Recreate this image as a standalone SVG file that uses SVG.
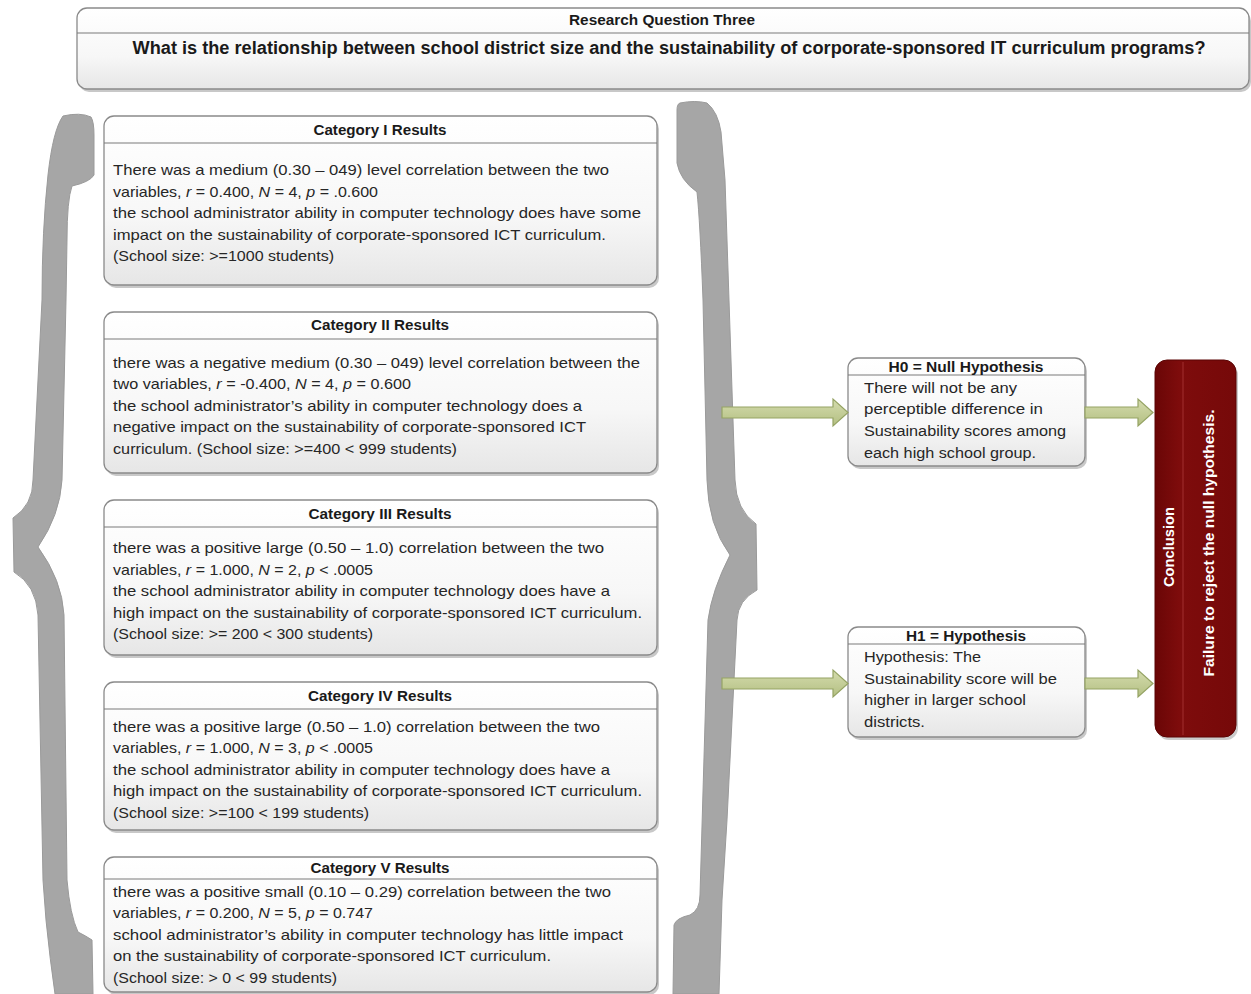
<svg xmlns="http://www.w3.org/2000/svg" width="1251" height="994" viewBox="0 0 1251 994">
<defs>
<linearGradient id="boxg" x1="0" y1="0" x2="0" y2="1">
<stop offset="0" stop-color="#ffffff"/>
<stop offset="0.6" stop-color="#f7f7f7"/>
<stop offset="1" stop-color="#e6e6e6"/>
</linearGradient>
<linearGradient id="redg" x1="0" y1="0" x2="1" y2="0">
<stop offset="0" stop-color="#6a0606"/>
<stop offset="0.3" stop-color="#7e0c0c"/>
<stop offset="1" stop-color="#760909"/>
</linearGradient>
<linearGradient id="arrg" x1="0" y1="0" x2="0" y2="1">
<stop offset="0" stop-color="#d5dcae"/>
<stop offset="1" stop-color="#b3bf82"/>
</linearGradient>
</defs>
<style>
.box{fill:url(#boxg);stroke:#8a8a8a;stroke-width:1.3}
.shadow{fill:#c8c8c8}
.sep{stroke:#7a7a7a;stroke-width:1.2}
.title{font-family:"Liberation Sans",Arial,sans-serif;font-weight:bold;font-size:14.5px;fill:#1a1a1a;text-anchor:middle}
.body{font-family:"Liberation Sans",Arial,sans-serif;font-size:15px;fill:#262626}
.hbody{font-family:"Liberation Sans",Arial,sans-serif;font-size:15.5px;fill:#262626}
.it{font-style:italic}
.brace{fill:#a6a6a6;stroke:#9a9a9a;stroke-width:1}
.arrow{fill:url(#arrg);stroke:#95a364;stroke-width:1.2}
.wt{font-family:"Liberation Sans",Arial,sans-serif;font-weight:bold;font-size:15px;fill:#ffffff;text-anchor:middle}
</style>

<g id="question">
<rect class="shadow" x="79" y="11" width="1172" height="81" rx="10"/>
<rect class="box" x="77" y="8" width="1172" height="81" rx="10"/>
<line class="sep" x1="77" y1="33" x2="1249" y2="33"/>
<text class="title" x="662" y="25" textLength="186" lengthAdjust="spacingAndGlyphs">Research Question Three</text>
<text class="title" x="669" y="54" style="font-size:18px" textLength="1073" lengthAdjust="spacingAndGlyphs">What is the relationship between school district size and the sustainability of corporate-sponsored IT curriculum programs?</text>
</g>

<g id="left-brace">
<path class="brace" d="M63,116 Q80,112 91,117 Q94,122 94,135 L94,175 Q90,182 72,186 Q67,200 67,240 L66,300 L62,480 Q60,515 38,547 Q62,580 64,615 L67,880 Q70,915 78,932 Q86,936 92,940 L93,994 L55,994 Q50,960 46,920 L43,880 L38,615 Q36,585 14,572 L13,518 Q33,505 33,480 L42,300 Q42,230 48,175 Q53,130 63,116 Z"/>
</g>

<g id="right-brace">
<path class="brace" d="M680,103 Q695,100 707,103 Q718,112 721,132 L725,180 L735,480 Q736,510 756,524 L757,590 Q738,600 737,620 L727,820 L722,900 L719,994 L673,994 L674,925 Q676,918 690,915 Q700,910 700,895 L708,620 Q712,590 730,555 Q708,525 707,480 L703,300 Q700,220 697,192 Q680,180 677,163 L677,110 Q677,104 680,103 Z"/>
</g>

<g id="cat1">
<rect class="shadow" x="106" y="119" width="553" height="169" rx="10"/>
<rect class="box" x="104" y="116" width="553" height="169" rx="10"/>
<line class="sep" x1="104" y1="143" x2="657" y2="143"/>
<text class="title" x="380" y="135" textLength="133" lengthAdjust="spacingAndGlyphs">Category I Results</text>
<text class="body" x="113" y="175" textLength="496" lengthAdjust="spacingAndGlyphs">There was a medium (0.30 – 049) level correlation between the two</text>
<text class="body" x="113" y="197" textLength="265" lengthAdjust="spacingAndGlyphs">variables, <tspan class="it">r</tspan> = 0.400, <tspan class="it">N</tspan> = 4, <tspan class="it">p</tspan> = .0.600</text>
<text class="body" x="113" y="218" textLength="528" lengthAdjust="spacingAndGlyphs">the school administrator ability in computer technology does have some</text>
<text class="body" x="113" y="240" textLength="493" lengthAdjust="spacingAndGlyphs">impact on the sustainability of corporate-sponsored ICT curriculum.</text>
<text class="body" x="113" y="261" textLength="221" lengthAdjust="spacingAndGlyphs">(School size: &gt;=1000 students)</text>
</g>

<g id="cat2">
<rect class="shadow" x="106" y="315" width="553" height="161" rx="10"/>
<rect class="box" x="104" y="312" width="553" height="161" rx="10"/>
<line class="sep" x1="104" y1="339" x2="657" y2="339"/>
<text class="title" x="380" y="330" textLength="138" lengthAdjust="spacingAndGlyphs">Category II Results</text>
<text class="body" x="113" y="368" textLength="527" lengthAdjust="spacingAndGlyphs">there was a negative medium (0.30 – 049) level correlation between the</text>
<text class="body" x="113" y="389" textLength="298" lengthAdjust="spacingAndGlyphs">two variables, <tspan class="it">r</tspan> = -0.400, <tspan class="it">N</tspan> = 4, <tspan class="it">p</tspan> = 0.600</text>
<text class="body" x="113" y="411" textLength="469" lengthAdjust="spacingAndGlyphs">the school administrator’s ability in computer technology does a</text>
<text class="body" x="113" y="432" textLength="473" lengthAdjust="spacingAndGlyphs">negative impact on the sustainability of corporate-sponsored ICT</text>
<text class="body" x="113" y="454" textLength="344" lengthAdjust="spacingAndGlyphs">curriculum. (School size: &gt;=400 &lt; 999 students)</text>
</g>

<g id="cat3">
<rect class="shadow" x="106" y="503" width="553" height="155" rx="10"/>
<rect class="box" x="104" y="500" width="553" height="155" rx="10"/>
<line class="sep" x1="104" y1="527" x2="657" y2="527"/>
<text class="title" x="380" y="519" textLength="143" lengthAdjust="spacingAndGlyphs">Category III Results</text>
<text class="body" x="113" y="553" textLength="491" lengthAdjust="spacingAndGlyphs">there was a positive large (0.50 – 1.0)  correlation between the two</text>
<text class="body" x="113" y="575" textLength="260" lengthAdjust="spacingAndGlyphs">variables, <tspan class="it">r</tspan> = 1.000, <tspan class="it">N</tspan> = 2, <tspan class="it">p</tspan> &lt; .0005</text>
<text class="body" x="113" y="596" textLength="497" lengthAdjust="spacingAndGlyphs">the school administrator ability in computer technology does have a</text>
<text class="body" x="113" y="618" textLength="529" lengthAdjust="spacingAndGlyphs">high impact on the sustainability of corporate-sponsored ICT curriculum.</text>
<text class="body" x="113" y="639" textLength="260" lengthAdjust="spacingAndGlyphs">(School size: &gt;= 200 &lt; 300 students)</text>
</g>

<g id="cat4">
<rect class="shadow" x="106" y="685" width="553" height="148" rx="10"/>
<rect class="box" x="104" y="682" width="553" height="148" rx="10"/>
<line class="sep" x1="104" y1="709" x2="657" y2="709"/>
<text class="title" x="380" y="701" textLength="144" lengthAdjust="spacingAndGlyphs">Category IV Results</text>
<text class="body" x="113" y="732" textLength="487" lengthAdjust="spacingAndGlyphs">there was a positive large (0.50 – 1.0) correlation between the two</text>
<text class="body" x="113" y="753" textLength="260" lengthAdjust="spacingAndGlyphs">variables, <tspan class="it">r</tspan> = 1.000, <tspan class="it">N</tspan> = 3, <tspan class="it">p</tspan> &lt; .0005</text>
<text class="body" x="113" y="775" textLength="497" lengthAdjust="spacingAndGlyphs">the school administrator ability in computer technology does have a</text>
<text class="body" x="113" y="796" textLength="529" lengthAdjust="spacingAndGlyphs">high impact on the sustainability of corporate-sponsored ICT curriculum.</text>
<text class="body" x="113" y="818" textLength="256" lengthAdjust="spacingAndGlyphs">(School size: &gt;=100 &lt; 199 students)</text>
</g>

<g id="cat5">
<rect class="shadow" x="106" y="860" width="553" height="135" rx="10"/>
<rect class="box" x="104" y="857" width="553" height="135" rx="10"/>
<line class="sep" x1="104" y1="879" x2="657" y2="879"/>
<text class="title" x="380" y="873" textLength="139" lengthAdjust="spacingAndGlyphs">Category V Results</text>
<text class="body" x="113" y="897" textLength="498" lengthAdjust="spacingAndGlyphs">there was a positive small (0.10 – 0.29) correlation between the two</text>
<text class="body" x="113" y="918" textLength="260" lengthAdjust="spacingAndGlyphs">variables, <tspan class="it">r</tspan> = 0.200, <tspan class="it">N</tspan> = 5, <tspan class="it">p</tspan> = 0.747</text>
<text class="body" x="113" y="940" textLength="510" lengthAdjust="spacingAndGlyphs">school administrator’s ability in computer technology has little impact</text>
<text class="body" x="113" y="961" textLength="438" lengthAdjust="spacingAndGlyphs">on the sustainability of corporate-sponsored ICT curriculum.</text>
<text class="body" x="113" y="983" textLength="224" lengthAdjust="spacingAndGlyphs">(School size: &gt; 0 &lt; 99 students)</text>
</g>

<g id="h0">
<rect class="shadow" x="850" y="361" width="237" height="108" rx="10"/>
<rect class="box" x="848" y="358" width="237" height="108" rx="10"/>
<line class="sep" x1="848" y1="375" x2="1085" y2="375"/>
<text class="title" x="966" y="372" style="font-size:15px" textLength="155" lengthAdjust="spacingAndGlyphs">H0 = Null Hypothesis</text>
<text class="hbody" x="864" y="393" textLength="153" lengthAdjust="spacingAndGlyphs">There will not be any</text>
<text class="hbody" x="864" y="414" textLength="179" lengthAdjust="spacingAndGlyphs">perceptible difference in</text>
<text class="hbody" x="864" y="436" textLength="202" lengthAdjust="spacingAndGlyphs">Sustainability scores among</text>
<text class="hbody" x="864" y="458" textLength="172" lengthAdjust="spacingAndGlyphs">each high school group.</text>
</g>

<g id="h1">
<rect class="shadow" x="850" y="630" width="237" height="110" rx="10"/>
<rect class="box" x="848" y="627" width="237" height="110" rx="10"/>
<line class="sep" x1="848" y1="644" x2="1085" y2="644"/>
<text class="title" x="966" y="641" style="font-size:15px" textLength="120" lengthAdjust="spacingAndGlyphs">H1 = Hypothesis</text>
<text class="hbody" x="864" y="662" textLength="117" lengthAdjust="spacingAndGlyphs">Hypothesis: The</text>
<text class="hbody" x="864" y="684" textLength="193" lengthAdjust="spacingAndGlyphs">Sustainability score will be</text>
<text class="hbody" x="864" y="705" textLength="162" lengthAdjust="spacingAndGlyphs">higher in larger school</text>
<text class="hbody" x="864" y="727" textLength="61" lengthAdjust="spacingAndGlyphs">districts.</text>
</g>

<g id="conclusion">
<rect x="1157" y="363" width="81" height="377" rx="12" fill="#9a9a9a" opacity="0.5"/>
<rect x="1155" y="360" width="81" height="377" rx="12" fill="url(#redg)" stroke="#5a0505" stroke-width="1"/>
<line x1="1183" y1="362" x2="1183" y2="735" stroke="#9c2a2a" stroke-width="1.2"/>
<text class="wt" x="1174" y="547" transform="rotate(-90 1174 547)" textLength="80" lengthAdjust="spacingAndGlyphs">Conclusion</text>
<text class="wt" x="1214" y="543" transform="rotate(-90 1214 543)" textLength="267" lengthAdjust="spacingAndGlyphs">Failure to reject the null hypothesis.</text>
</g>

<g id="connectors">
<path class="arrow" d="M722,407 L833,407 L833,399 L848,412.5 L833,426 L833,418 L722,418 Z"/>
<path class="arrow" d="M1085,407 L1138,407 L1138,399 L1153,412.5 L1138,426 L1138,418 L1085,418 Z"/>
<path class="arrow" d="M722,678 L833,678 L833,670 L848,683.5 L833,697 L833,689 L722,689 Z"/>
<path class="arrow" d="M1085,678 L1138,678 L1138,670 L1153,683.5 L1138,697 L1138,689 L1085,689 Z"/>
</g>
</svg>
